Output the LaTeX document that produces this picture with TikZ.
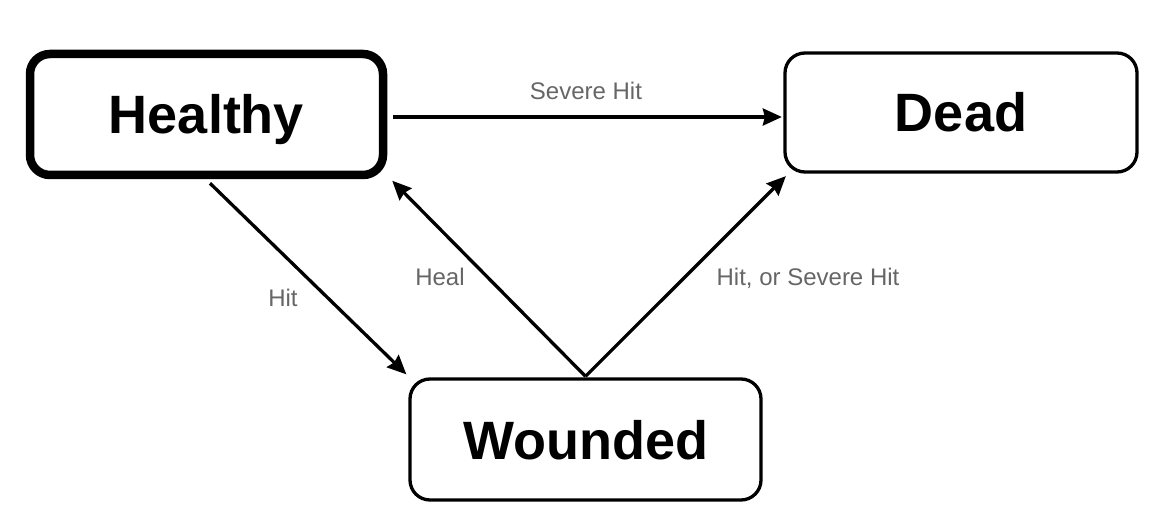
\documentclass[tikz,border=0pt]{standalone}
\usepackage{fontspec}
\setmainfont{Liberation Sans}
\usetikzlibrary{arrows.meta,calc}
\definecolor{lblgray}{HTML}{666666}
\begin{document}
\begin{tikzpicture}[x=1pt,y=-1pt,
  state/.style={draw=black, rounded corners=20pt, fill=white, inner sep=0pt,
    font=\fontsize{54}{60}\selectfont\bfseries, text height=39pt, text depth=0pt},
  arr/.style={line width=3.3pt, -{Stealth[length=19pt,width=17pt,inset=2pt]}},
  lbl/.style={text=lblgray, font=\fontsize{24}{28}\selectfont, inner sep=0pt}]
\useasboundingbox (0,0) rectangle (1158,526);
\node[state, line width=8.5pt, minimum width=353pt, minimum height=121pt] (healthy) at (206.5,114.5) {Healthy};
\node[state, line width=3.3pt, minimum width=352pt, minimum height=119pt] (dead) at (961,112.5) {Dead};
\node[state, line width=3.3pt, minimum width=351pt, minimum height=121pt] (wounded) at (585.5,439.5) {Wounded};
% connectors
\draw[arr] ($(healthy.east)+(6,2.5)$) -- ($(dead.west)+(-1.5,4.5)$);
\draw[arr] ($(healthy.south)+(3.5,4)$) -- ($(wounded.north west)+(-2,-3)$);
\draw[arr] ($(wounded.north)+(0,-1)$) -- ($(healthy.south east)+(5,1.5)$);
\draw[arr] ($(wounded.north)+(0,-1)$) -- ($(dead.south west)+(2.5,2.5)$);
% labels
\node[lbl] (lsevere) at (586,91) {Severe Hit};
\node[lbl] (lhit) at (283,298) {Hit};
\node[lbl] (lheal) at (440,277) {Heal};
\node[lbl] (lhitsev) at (808,278) {Hit, or Severe Hit};
\end{tikzpicture}
\end{document}
